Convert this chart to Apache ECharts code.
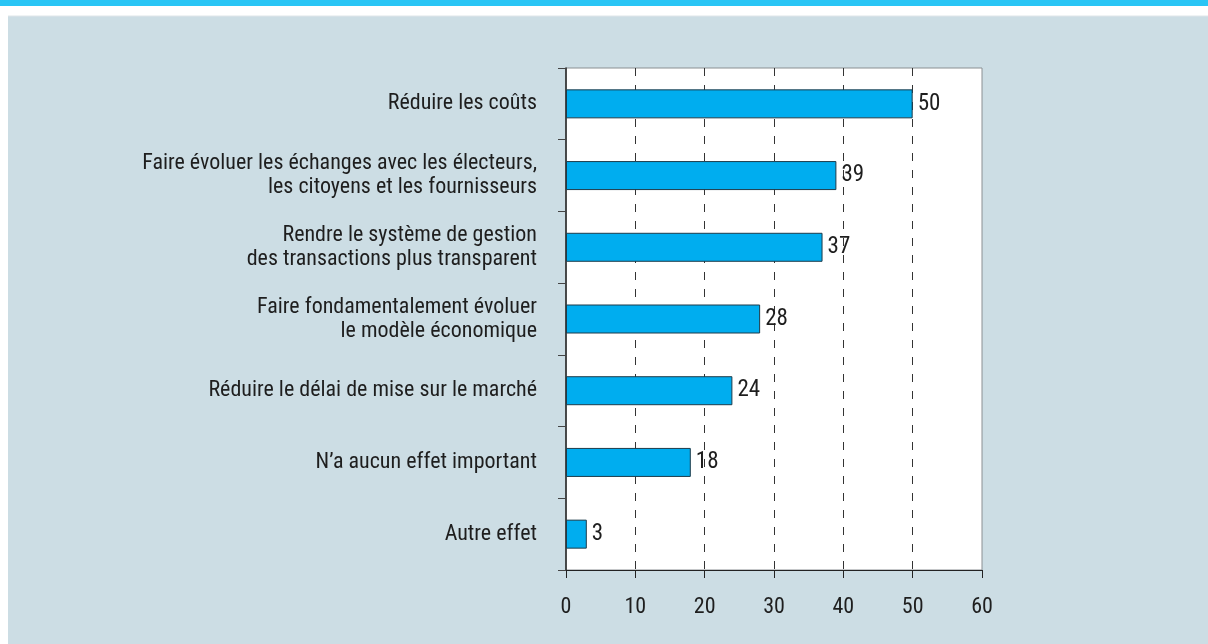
<!DOCTYPE html>
<html>
<head>
<meta charset="utf-8">
<script src="https://cdn.jsdelivr.net/npm/echarts@6/dist/echarts.min.js"></script>
<style>
html,body{margin:0;padding:0;background:#fff;}
#c{width:1208px;height:644px;}
</style>
</head>
<body>
<div id="c"></div>
<script>
var categories = [
  "Réduire les coûts",
  "Faire évoluer les échanges avec les électeurs,\nles citoyens et les fournisseurs",
  "Rendre le système de gestion\ndes transactions plus transparent",
  "Faire fondamentalement évoluer\nle modèle économique",
  "Réduire le délai de mise sur le marché",
  "N’a aucun effet important",
  "Autre effet"
];
var values = [50, 39, 37, 28, 24, 18, 3];
var gridTicks = [10, 20, 30, 40, 50];

var FONT = '"Roboto Condensed", "Liberation Sans", Arial, sans-serif';
var chart = echarts.init(document.getElementById('c'), null, {renderer: 'canvas'});
chart.setOption({
  animation: false,
  backgroundColor: '#ffffff',
  graphic: [
    {type: 'rect', z: -10, shape: {x: 0, y: 0, width: 1208, height: 6}, style: {fill: '#29c5f5'}},
    {type: 'rect', z: -10, shape: {x: 8, y: 16, width: 1200, height: 628}, style: {fill: '#ccdde4'}},
    {type: 'line', z: -9, shape: {x1: 8, y1: 16, x2: 1208, y2: 16}, style: {stroke: '#dfe6e9', lineWidth: 1}}
  ],
  grid: {
    left: 566, right: 226, top: 68, bottom: 74,
    show: true, backgroundColor: '#ffffff', borderColor: '#8a8f92', borderWidth: 1
  },
  xAxis: {
    type: 'value', min: 0, max: 60, interval: 10,
    axisLine: {show: true, lineStyle: {color: '#222', width: 1}},
    axisTick: {show: true, length: 8, lineStyle: {color: '#222'}},
    axisLabel: {fontFamily: FONT, fontSize: 22, color: '#1e1e1e', margin: 26},
    splitLine: {show: false}
  },
  yAxis: {
    type: 'category', data: categories, inverse: true,
    axisLine: {show: true, lineStyle: {color: '#222', width: 1.5}},
    axisTick: {show: true, length: 8, lineStyle: {color: '#444'}},
    axisLabel: {fontFamily: FONT, fontSize: 22, color: '#1e1e1e', margin: 29, lineHeight: 24, align: 'right'}
  },
  series: [{
    type: 'bar',
    data: values,
    barWidth: 29,
    itemStyle: {color: '#00adef', borderColor: '#1d3b4a', borderWidth: 1},
    label: {show: true, position: 'right', distance: 5, fontFamily: FONT, fontSize: 23, color: '#1e1e1e'},
    markLine: {
      silent: true, symbol: ['none', 'none'], label: {show: false},
      lineStyle: {type: [8, 9], color: '#333', width: 1},
      z: 1,
      data: gridTicks.map(function (v) { return {xAxis: v}; })
    },
    z: 3
  }]
});
</script>
</body>
</html>
